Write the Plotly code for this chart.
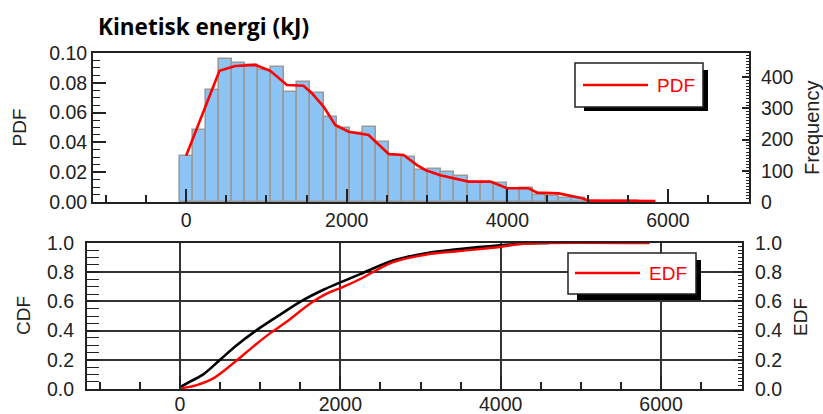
import plotly.graph_objects as go

W, H = 823, 414

# ---------------- data ----------------
bin_centers = [0, 163, 326, 489, 652, 815, 978, 1141, 1304, 1467, 1630, 1793,
               1956, 2119, 2282, 2445, 2608, 2771, 2934, 3097, 3260, 3423, 3586,
               3749, 3912, 4075, 4238, 4401, 4564, 4727, 4890, 5053, 5216, 5379,
               5542, 5705]
hist_pdf = [0.031, 0.0483, 0.0752, 0.0958, 0.0931, 0.0919, 0.0886, 0.0904,
            0.074, 0.0807, 0.073, 0.0573, 0.0495, 0.0465, 0.0501, 0.040, 0.031,
            0.030, 0.0215, 0.022, 0.0204, 0.0174, 0.013, 0.013, 0.013, 0.0085,
            0.0096, 0.0047, 0.004, 0.003, 0.0025, 0.0003, 0.0002, 0.0005,
            0.0004, 0.0002]
bin_width = 163

pdf_x = [0, 415, 611, 860, 1047, 1255, 1462, 1566, 1711, 1857, 2023, 2272,
         2521, 2708, 2875, 2978, 3165, 3393, 3518, 3788, 3996, 4265, 4370,
         4640, 4931, 5013, 5400, 5844]
pdf_y = [0.031, 0.0881, 0.0913, 0.092, 0.088, 0.0785, 0.078, 0.073, 0.064,
         0.0517, 0.0472, 0.045, 0.0322, 0.0315, 0.0248, 0.0215, 0.018, 0.0152,
         0.0137, 0.0137, 0.0092, 0.0092, 0.0063, 0.0058, 0.0025, 0.0009,
         0.0008, 0.0007]

cdf_x = [0, 125, 290, 500, 707, 1000, 1250, 1540, 1790, 2000, 2240, 2660,
         3070, 3490, 3990, 4320, 4600]
cdf_y = [0.012, 0.05, 0.10, 0.20, 0.30, 0.42, 0.51, 0.61, 0.68, 0.73, 0.785,
         0.88, 0.93, 0.958, 0.984, 0.997, 1.0]

edf_x = [0, 208, 415, 664, 913, 1121, 1330, 1620, 1828, 2035, 2243, 2658,
         3074, 3489, 3988, 4237, 4500, 5857]
edf_y = [0.004, 0.027, 0.073, 0.176, 0.29, 0.381, 0.46, 0.584, 0.653, 0.699,
         0.752, 0.869, 0.921, 0.945, 0.973, 0.993, 1.0, 1.0]

title_text = "Kinetisk energi (kJ)"
x_range = [-1160, 7010]
freq_range = [0, 477]

# ---------------- helpers ----------------
def px(x):
    return x / W

def py(y):
    return 1 - y / H

FAM = "Liberation Sans, Arial, sans-serif"
TICKFONT = dict(family=FAM, size=19.5, color="#222")
LC = "#222"

fig = go.Figure()

fig.add_trace(go.Bar(
    x=bin_centers, y=hist_pdf, width=bin_width,
    marker=dict(color="#8cc4f6", line=dict(color="#9a9a9a", width=1.6)),
    xaxis="x", yaxis="y", showlegend=False, name="Histogram"))
fig.add_trace(go.Scatter(
    x=pdf_x, y=pdf_y, mode="lines", line=dict(color="#ff0000", width=2.6),
    xaxis="x", yaxis="y", showlegend=False, name="PDF"))
fig.add_trace(go.Scatter(x=[None], y=[None], xaxis="x", yaxis="y3",
                         showlegend=False, hoverinfo="skip"))

fig.add_trace(go.Scatter(
    x=cdf_x, y=cdf_y, mode="lines", line=dict(color="#000000", width=2.6, shape="spline"),
    xaxis="x2", yaxis="y2", showlegend=False, name="CDF"))
fig.add_trace(go.Scatter(
    x=edf_x, y=edf_y, mode="lines", line=dict(color="#ff0000", width=2.4, shape="spline"),
    xaxis="x2", yaxis="y4", showlegend=False, name="EDF"))

top_dom_y = [py(202), py(53)]
bot_dom_y = [py(389), py(243)]

common_x = dict(range=x_range, tickmode="linear", tick0=0, dtick=2000,
                ticks="inside", ticklen=13, tickwidth=1.6, tickcolor=LC,
                showline=True, linecolor=LC, linewidth=2, mirror=True,
                tickfont=TICKFONT, tickformat="d", zeroline=False,
                automargin=False, fixedrange=True)

fig.update_layout(
    width=W, height=H,
    margin=dict(l=0, r=0, t=0, b=0),
    paper_bgcolor="white", plot_bgcolor="white",
    bargap=0,
    xaxis=dict(domain=[px(93), px(749)], anchor="y", showgrid=False,
               ticklabelstandoff=0,
               minor=dict(dtick=500, tick0=0, ticks="inside", ticklen=7,
                          tickwidth=1.6, tickcolor=LC, showgrid=False),
               **common_x),
    yaxis=dict(domain=top_dom_y, anchor="x", range=[0, 0.1], tickmode="linear",
               tick0=0, dtick=0.02, tickformat=".2f", ticks="inside",
               ticklen=13, tickwidth=1.6, tickcolor=LC, showline=True,
               linecolor=LC, linewidth=2, showgrid=False, zeroline=False,
               tickfont=TICKFONT, automargin=False, ticklabelstandoff=0,
               minor=dict(dtick=0.005, tick0=0, ticks="inside", ticklen=7,
                          tickwidth=1.4, tickcolor=LC, showgrid=False)),
    yaxis3=dict(overlaying="y", side="right", anchor="x", range=freq_range,
                tickmode="linear", tick0=0, dtick=100, ticks="inside",
                ticklen=7, tickwidth=1.6, tickcolor=LC, showline=True,
                linecolor=LC, linewidth=2, showgrid=False, zeroline=False,
                tickfont=TICKFONT, automargin=False, ticklabelstandoff=6,
                minor=dict(dtick=10, tick0=0, ticks="inside", ticklen=3,
                           tickwidth=1, tickcolor=LC, showgrid=False)),
    xaxis2=dict(domain=[px(87), px(742)], anchor="y2", showgrid=True,
                gridcolor="#333", gridwidth=1.6, ticklabelstandoff=-3,
                minor=dict(dtick=500, tick0=0, ticks="inside", ticklen=7,
                           tickwidth=1.6, tickcolor=LC, showgrid=False),
                **common_x),
    yaxis2=dict(domain=bot_dom_y, anchor="x2", range=[0, 1], tickmode="linear",
                tick0=0, dtick=0.2, tickformat=".1f", ticks="inside",
                ticklen=12, tickwidth=1.6, tickcolor=LC, showline=True,
                linecolor=LC, linewidth=2, showgrid=True, gridcolor="#333",
                gridwidth=1.6, zeroline=False, tickfont=TICKFONT,
                automargin=False, ticklabelstandoff=7,
                minor=dict(dtick=0.05, tick0=0, ticks="inside", ticklen=12,
                           tickwidth=1.4, tickcolor=LC, showgrid=False)),
    yaxis4=dict(overlaying="y2", side="right", anchor="x2", range=[0, 1],
                tickmode="linear", tick0=0, dtick=0.2, tickformat=".1f",
                ticks="inside", ticklen=8, tickwidth=1.6, tickcolor=LC,
                showline=True, linecolor=LC, linewidth=2, showgrid=False,
                zeroline=False, tickfont=TICKFONT, automargin=False,
                ticklabelstandoff=7,
                minor=dict(dtick=0.025, tick0=0, ticks="inside", ticklen=4,
                           tickwidth=1, tickcolor=LC, showgrid=False)),
)

# ---------------- legends (drawn boxes with shadows) ----------------
shapes = []
def legend_box(x0, y0, x1, y1, sx0, sy0, sx1, sy1, lx0, lx1, ly):
    shapes.append(dict(type="rect", xref="paper", yref="paper",
                       x0=px(sx0), x1=px(sx1), y0=py(sy1), y1=py(sy0),
                       fillcolor="black", line=dict(width=0), layer="above"))
    shapes.append(dict(type="rect", xref="paper", yref="paper",
                       x0=px(x0), x1=px(x1), y0=py(y1), y1=py(y0),
                       fillcolor="white", line=dict(color="#222", width=1.5),
                       layer="above"))
    shapes.append(dict(type="line", xref="paper", yref="paper",
                       x0=px(lx0), x1=px(lx1), y0=py(ly), y1=py(ly),
                       line=dict(color="#ff0000", width=2.6), layer="above"))

legend_box(575, 63, 703, 107, 584, 70, 708, 111, 583, 648, 85)
legend_box(568, 253, 696, 294, 577, 260, 701, 300, 575, 640, 273)

LEGFONT = dict(family=FAM, size=19, color="#ff0000")
LABFONT = dict(family=FAM, size=19, color="#222")

annotations = [
    dict(text="PDF", x=px(655), y=py(85), xref="paper", yref="paper",
         xanchor="left", yanchor="middle", showarrow=False, font=LEGFONT),
    dict(text="EDF", x=px(647), y=py(273), xref="paper", yref="paper",
         xanchor="left", yanchor="middle", showarrow=False, font=LEGFONT),
    dict(text="PDF", x=px(18.5), y=py(128), xref="paper", yref="paper",
         xanchor="center", yanchor="middle", textangle=-90, showarrow=False,
         font=LABFONT),
    dict(text="Frequency", x=px(812), y=py(128), xref="paper", yref="paper",
         xanchor="center", yanchor="middle", textangle=-90, showarrow=False,
         font=dict(family=FAM, size=20, color="#222")),
    dict(text="CDF", x=px(23), y=py(316), xref="paper", yref="paper",
         xanchor="center", yanchor="middle", textangle=-90, showarrow=False,
         font=LABFONT),
    dict(text="EDF", x=px(800), y=py(317), xref="paper", yref="paper",
         xanchor="center", yanchor="middle", textangle=-90, showarrow=False,
         font=LABFONT),
    dict(text="<b>" + title_text + "</b>", x=px(96), y=py(26), xref="paper",
         yref="paper", xanchor="left", yanchor="middle", showarrow=False,
         font=dict(family="Open Sans, sans-serif", size=22.5, color="#000")),
]

fig.update_layout(shapes=shapes, annotations=annotations)

fig.write_html("out.html")
